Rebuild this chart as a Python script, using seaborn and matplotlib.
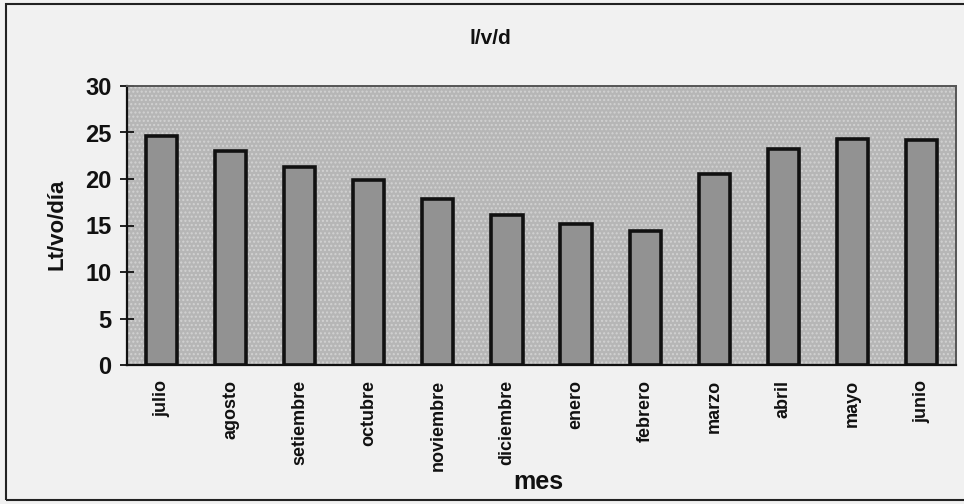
import matplotlib
matplotlib.use("Agg")
import matplotlib.pyplot as plt
import seaborn as sns
import pandas as pd
from matplotlib.patches import Rectangle

meses = ["julio", "agosto", "setiembre", "octubre", "noviembre", "diciembre",
         "enero", "febrero", "marzo", "abril", "mayo", "junio"]
litros = [24.6, 23.0, 21.3, 19.9, 17.9, 16.1, 15.2, 14.4, 20.5, 23.2, 24.3, 24.2]
yticks = [0, 5, 10, 15, 20, 25, 30]

titulo = "l/v/d"
ylab = "Lt/vo/día"
xlab = "mes"

sns.set_theme(style="white")
plt.rcParams["font.family"] = ["Liberation Sans", "DejaVu Sans"]
plt.rcParams["font.weight"] = "bold"

df = pd.DataFrame({"mes": meses, "lvd": litros})

fig = plt.figure(figsize=(9.64, 5.04), dpi=100)
fig.patch.set_facecolor("#f1f1f1")
ax = fig.add_axes([127/964, 1 - 365/504, (956-127)/964, (365-86)/504])
ax.set_facecolor("#b6b6b6")
# stippled background texture
bg = Rectangle((0, 0), 1, 1, transform=ax.transAxes, facecolor="none",
               edgecolor="#d2d2d2", hatch="....", linewidth=0, zorder=0)
ax.add_patch(bg)

sns.barplot(data=df, x="mes", y="lvd", ax=ax, color="#929292",
            edgecolor="#111111", linewidth=2.6, width=0.45, saturation=1, zorder=2)

ax.set_ylim(0, 30)
ax.set_xlim(-0.5, len(meses) - 0.5)
ax.set_yticks(yticks)
ax.set_yticklabels([str(v) for v in yticks], fontsize=17, fontweight="bold")
ax.set_xticks(range(len(meses)))
ax.set_xticklabels(meses, rotation=90, fontsize=13, fontweight="bold",
                   va="top", ha="center")
ax.set_xticks([i - 0.5 for i in range(len(meses) + 1)], minor=True)
ax.tick_params(axis="x", which="major", length=0, pad=11, colors="#111111")
ax.tick_params(axis="x", which="minor", length=12, width=1.3, direction="inout",
               color="#111111")
ax.tick_params(axis="y", which="major", length=10, width=1.3, direction="inout",
               pad=6, colors="#111111", left=True)

for side in ["left", "bottom"]:
    ax.spines[side].set_color("#111111")
    ax.spines[side].set_linewidth(1.6)
for side in ["top", "right"]:
    ax.spines[side].set_color("#555555")
    ax.spines[side].set_linewidth(1.4)
    ax.spines[side].set_visible(True)

ax.set_xlabel("")
ax.set_ylabel("")
fig.text(57/964, 1 - 224/504, ylab, rotation=90, ha="center", va="center",
         fontsize=16, fontweight="bold", color="#111111")
fig.text(538/964, 1 - 482/504, xlab, ha="center", va="center",
         fontsize=18, fontweight="bold", color="#111111")
fig.text(490/964, 1 - 38/504, titulo, ha="center", va="center",
         fontsize=15, fontweight="bold", color="#111111")

fig.patches.append(Rectangle((6/964, 4/504), 1.0, 496/504, transform=fig.transFigure,
                             facecolor="none", edgecolor="#222222", linewidth=1.5))

fig.savefig("out.png", dpi=100, facecolor=fig.get_facecolor())
